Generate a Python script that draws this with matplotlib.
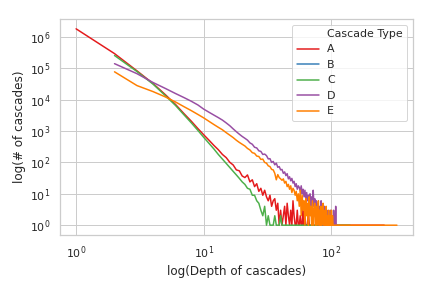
import matplotlib
matplotlib.use('Agg')
import matplotlib.pyplot as plt
from matplotlib.ticker import NullFormatter
import seaborn as sns

# depth of cascades (x) and number of cascades (y) per type
a_depth = list(range(1, 71)) + [259]
a_count = [1820000, 295000, 83000, 33000, 14500, 7100, 3600, 2050, 1200, 760,
           510, 350, 255, 180, 142, 101, 83, 58, 54, 37,
           33, 40, 24, 28, 17, 21, 12, 15, 9, 13,
           8, 6, 9, 4, 6, 7, 3, 5, 1, 3,
           1, 2, 4, 1, 5, 2, 1, 3, 1, 6,
           2, 1, 1, 3, 1, 1, 2, 1, 1, 4,
           1, 2, 1, 1, 1, 3, 1, 1, 1, 1,
           1]

b_depth = []
b_count = []

c_depth = list(range(2, 46)) + [140]
c_count = [257000, 79000, 31600, 13500, 6600, 3300, 1820, 1050, 630,
           405, 270, 180, 128, 93, 69, 52, 40, 31, 24,
           20, 15, 14, 9, 9, 6, 5, 3, 2, 4,
           1, 2, 1, 1, 1, 2, 1, 1, 1, 2,
           1, 1, 1, 1, 1,
           1]

d_depth = list(range(2, 111))
d_count = [141000, 67600, 35500, 22900, 15800, 11700, 8900, 6800, 5000,
           3980, 3240, 2690, 2240, 1820, 1480, 1175, 955, 795, 675,
           590, 515, 420, 380, 305, 290, 235, 225, 180, 185,
           165, 130, 132, 100, 108, 84, 95, 70, 74, 58,
           60, 45, 50, 38, 44, 30, 35, 26, 31, 22,
           25, 17, 21, 14, 18, 16, 12, 18, 10, 14,
           8, 13, 7, 11, 6, 9, 5, 10, 4, 8,
           5, 13, 4, 7, 3, 6, 2, 5, 3, 1,
           4, 2, 6, 1, 3, 2, 1, 4, 1, 2,
           1, 3, 1, 1, 2, 1, 1, 3, 1, 1,
           2, 1, 1, 3, 1, 1, 1, 4, 1, 1]

e_depth = list(range(2, 104)) + [326]
e_count = [77600, 28200, 18200, 12300, 8500, 6000, 4470, 3390, 2630,
           2040, 1620, 1320, 1100, 890, 740, 620, 510, 435, 380,
           335, 280, 250, 205, 195, 160, 155, 125, 128, 100,
           95, 78, 74, 60, 58, 45, 28, 41, 33, 30,
           27, 30, 22, 25, 17, 20, 14, 18, 11, 15,
           13, 9, 12, 6, 10, 4, 13, 2, 9, 3,
           6, 1, 7, 2, 5, 1, 8, 2, 4, 1,
           6, 1, 3, 5, 1, 4, 1, 2, 6, 1,
           3, 1, 4, 1, 2, 5, 1, 1, 3, 1,
           4, 1, 2, 1, 3, 1, 1, 2, 1, 3,
           1, 2, 1,
           1]

types = ['A', 'B', 'C', 'D', 'E']
colors = ['#e41a1c', '#377eb8', '#4daf4a', '#984ea3', '#ff7f00']

sns.set_style('whitegrid')
sns.set_context('notebook')

fig, ax = plt.subplots(figsize=(6, 4), dpi=72)
fig.subplots_adjust(left=0.139, right=0.956, top=0.934, bottom=0.184)

# 图例标题做成一条空的条目（旧版 seaborn 的样子）
ax.plot([], [], ' ', label='Cascade Type')

series = [(a_depth, a_count), (b_depth, b_count), (c_depth, c_count),
          (d_depth, d_count), (e_depth, e_count)]
for (xs, ys), name, col in zip(series, types, colors):
    ax.plot(xs, ys, color=col, lw=1.5, label=name)

ax.set_xscale('log')
ax.set_yscale('log')
ax.xaxis.set_minor_formatter(NullFormatter())
ax.yaxis.set_minor_formatter(NullFormatter())
ax.set_xlabel('log(Depth of cascades)')
ax.set_ylabel('log(# of cascades)')
ax.legend(loc='upper right')

plt.savefig('out.png', dpi=72)
